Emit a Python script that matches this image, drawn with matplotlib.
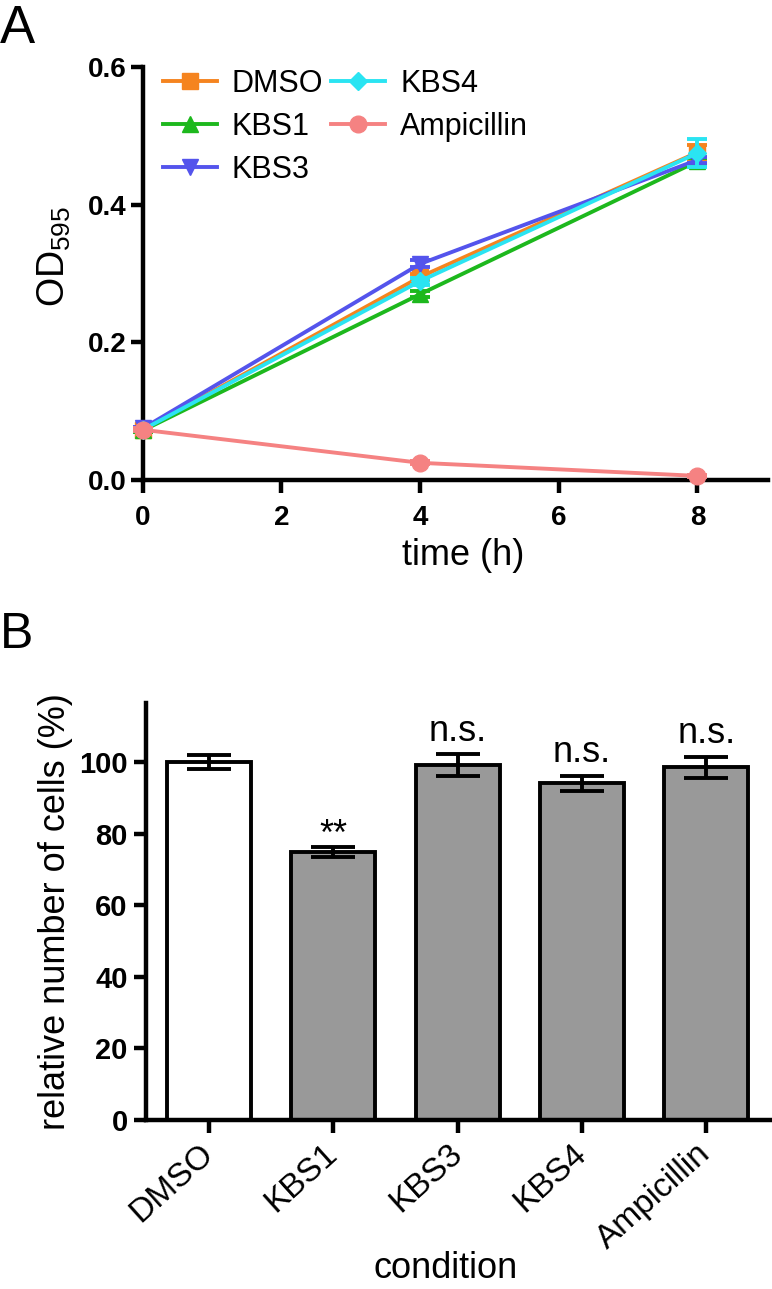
import numpy as np
import matplotlib
matplotlib.use("Agg")
import matplotlib.pyplot as plt

plt.rcParams['font.family'] = ['Liberation Sans', 'DejaVu Sans']
plt.rcParams['mathtext.fontset'] = 'custom'
plt.rcParams['mathtext.rm'] = 'Liberation Sans'

# Panel A: growth curves (OD595 over time)
time_h = [0, 4, 8]
growth_names = ['DMSO', 'KBS1', 'KBS3', 'KBS4', 'Ampicillin']
od_dmso = [0.073, 0.295, 0.476]
od_kbs1 = [0.072, 0.270, 0.463]
od_kbs3 = [0.075, 0.314, 0.465]
od_kbs4 = [0.073, 0.289, 0.475]
od_amp = [0.073, 0.025, 0.006]
err_dmso = [0.002, 0.005, 0.010]
err_kbs1 = [0.002, 0.004, 0.005]
err_kbs3 = [0.002, 0.005, 0.005]
err_kbs4 = [0.002, 0.005, 0.020]
err_amp = [0.002, 0.002, 0.002]

# Panel B: relative number of cells
conditions = ['DMSO', 'KBS1', 'KBS3', 'KBS4', 'Ampicillin']
rel_cells = [100.0, 74.9, 99.2, 94.1, 98.5]
rel_err = [1.9, 1.5, 3.0, 2.1, 2.9]
signif = ['', '**', 'n.s.', 'n.s.', 'n.s.']

colors = ['#F5841F', '#1DB81D', '#5454EC', '#2AE4F2', '#F58282']
markers = ['s', '^', 'v', 'D', 'o']
msizes = [11, 11, 12, 9, 12]

fig = plt.figure(figsize=(7.72, 12.89), dpi=100)

# ---------- Panel A ----------
axA = fig.add_axes([0.185, 0.6276, 0.81, 0.3204])
series = [od_dmso, od_kbs1, od_kbs3, od_kbs4, od_amp]
errs = [err_dmso, err_kbs1, err_kbs3, err_kbs4, err_amp]
handles = []
for name, y, e, c, m, ms in zip(growth_names, series, errs, colors, markers, msizes):
    axA.errorbar(time_h, y, yerr=e, fmt='none', ecolor=c, elinewidth=2.8,
                 capsize=7, capthick=2.8, clip_on=False, zorder=3)
    h, = axA.plot(time_h, y, color=c, marker=m, markersize=ms, linewidth=2.8,
                  label=name, clip_on=False, zorder=3)
    handles.append(h)

axA.set_xlim(0, 9.02)
axA.set_ylim(0, 0.6)
axA.set_xticks([0, 2, 4, 6, 8])
axA.set_yticks([0.0, 0.2, 0.4, 0.6])
axA.set_yticklabels(['0.0', '0.2', '0.4', '0.6'])
for s in ['top', 'right']:
    axA.spines[s].set_visible(False)
for s in ['left', 'bottom']:
    axA.spines[s].set_linewidth(3.2)
axA.tick_params(direction='out', length=9, width=3.2, labelsize=20)
axA.tick_params(axis='x', pad=9)
axA.tick_params(axis='y', pad=3)
for lab in axA.get_xticklabels() + axA.get_yticklabels():
    lab.set_fontweight('bold')
axA.set_xlabel('time (h)', fontsize=26)
axA.xaxis.set_label_coords(0.512, -0.14)
axA.set_ylabel(r'$\mathregular{OD_{595}}$', fontsize=27)
axA.yaxis.set_label_coords(-0.112, 0.542)

axA.legend(handles, growth_names, ncol=2, loc='upper left',
           bbox_to_anchor=(0.032, 0.995), frameon=False, fontsize=22,
           handlelength=1.76, handletextpad=0.5, columnspacing=0.25,
           labelspacing=0.42, borderpad=0, borderaxespad=0)

fig.text(0.0, 0.9666, 'A', fontsize=38, va='baseline', ha='left')

# ---------- Panel B ----------
axB = fig.add_axes([0.189, 0.1311, 0.808, 0.3235])
xpos = np.arange(len(conditions))
bar_colors = ['white'] + ['#999999'] * (len(conditions) - 1)
axB.bar(xpos, rel_cells, width=0.675, color=bar_colors, edgecolor='black',
        linewidth=2.8, zorder=2)
axB.errorbar(xpos, rel_cells, yerr=rel_err, fmt='none', ecolor='black',
             elinewidth=2.8, capsize=16, capthick=2.8, zorder=3)
for x, v, e, s in zip(xpos, rel_cells, rel_err, signif):
    if s == '**':
        axB.text(x, v + e + 0.5, s, ha='center', va='baseline', fontsize=26)
    elif s:
        axB.text(x, v + e + 3.8, s, ha='center', va='baseline', fontsize=26)

axB.set_xlim(-0.506, 4.51)
axB.set_ylim(0, 116.5)
axB.set_yticks([0, 20, 40, 60, 80, 100])
axB.set_xticks(xpos)
axB.set_xticklabels(conditions, rotation=42, ha='right', va='center',
                    rotation_mode='anchor', fontsize=24)
for s in ['top', 'right']:
    axB.spines[s].set_visible(False)
for s in ['left', 'bottom']:
    axB.spines[s].set_linewidth(3.2)
axB.tick_params(axis='y', direction='out', length=9, width=3.2, labelsize=21, pad=4)
axB.tick_params(axis='x', direction='out', length=9, width=3.2, pad=12)
for lab in axB.get_yticklabels():
    lab.set_fontweight('bold')
axB.set_xlabel('condition', fontsize=26)
axB.xaxis.set_label_coords(0.48, -0.315)
axB.set_ylabel('relative number of cells (%)', fontsize=26)
axB.yaxis.set_label_coords(-0.117, 0.499)

fig.text(0.0, 0.497, 'B', fontsize=36, va='baseline', ha='left')

fig.savefig('out.png', dpi=100)
